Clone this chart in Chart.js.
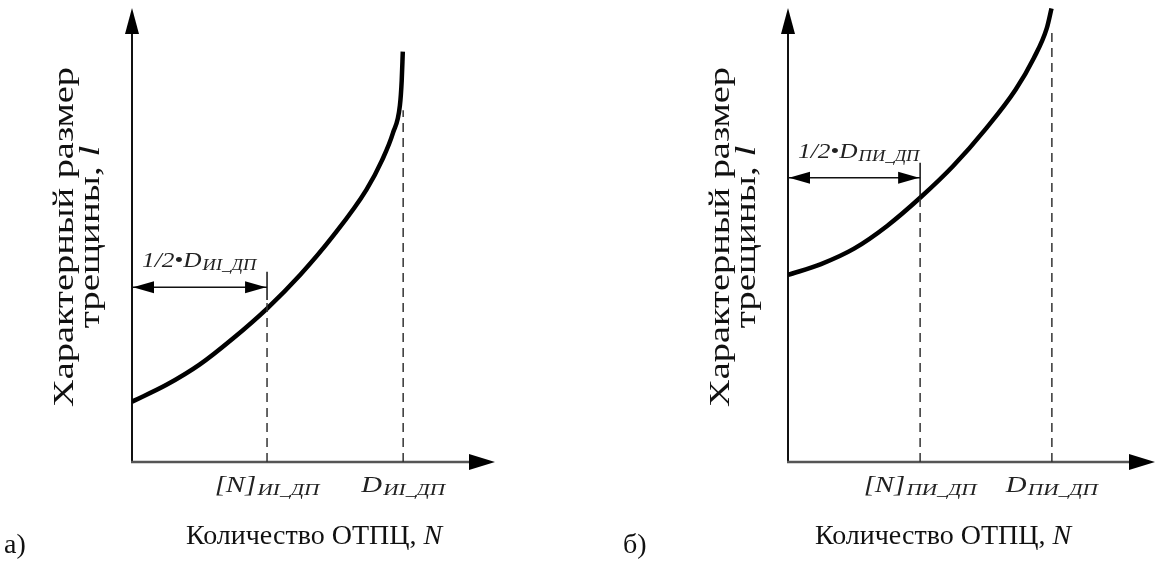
<!DOCTYPE html>
<html>
<head>
<meta charset="utf-8">
<script src="https://cdn.jsdelivr.net/npm/chart.js@4"></script>
<style>
  html, body { margin: 0; padding: 0; background: #fff; }
  #wrap { position: relative; width: 1165px; height: 562px; overflow: hidden; }
  canvas { position: absolute; top: 0; }
</style>
</head>
<body>
<div id="wrap">
  <canvas id="panelA" width="580" height="562" style="left:0"></canvas>
  <canvas id="panelB" width="585" height="562" style="left:580px"></canvas>
</div>
<script>
// Panel a): crack size vs number of cycles, curve goes vertical at D
var aCurveN = [0, 9.5, 18.7, 27.8, 37.2, 46.3, 55.4, 64.6, 68.9, 71.9, 73.8, 74.3, 74.6];
var aCurveL = [13.3, 17.0, 21.5, 27.2, 33.8, 41.2, 49.8, 60.0, 66.5, 72.5, 78.5, 84.0, 90.4];
var aAllowN = 37.2;   // [N]
var aLimitN = 74.7;   // D
var aArrowL = 38.5;   // level of the 1/2·D arrow
var aTickTop = 41.9;
var aDashTop = 35.7;
var aLimitTop = 77.5;
var aSub = 'ИІ_ДП';

// Panel б)
var bCurveN = [0, 9, 18, 27, 36, 45, 54, 62, 67, 70.5, 71.8];
var bCurveL = [41.2, 43.6, 47.0, 52.0, 58.2, 65.2, 73.5, 82.0, 89.0, 95.5, 99.9];
var bAllowN = 36.0;
var bLimitN = 71.9;
var bArrowL = 62.6;
var bTickTop = 65.9;
var bDashTop = 58.0;
var bLimitTop = 95.0;
var bSub = 'ПИ_ДП';

var FONT = '"Liberation Serif", "Times New Roman", serif';

function pts(xs, ys) {
    var out = [];
    for (var i = 0; i < xs.length; i++) out.push({ x: xs[i], y: ys[i] });
    return out;
}

function seg(x0, y0, x1, y1) {
    return [{ x: x0, y: y0 }, { x: x1, y: y1 }];
}

// text made of runs, stretched along its direction by sx
function drawRuns(ctx, x, y, runs, align, sx) {
    var total = 0, widths = [];
    for (var i = 0; i < runs.length; i++) {
        ctx.font = runs[i].font;
        widths.push(ctx.measureText(runs[i].text).width + (runs[i].gap || 0));
        total += widths[i];
    }
    ctx.save();
    ctx.translate(x, y);
    ctx.scale(sx, 1);
    var cx = align === 'center' ? -total / 2 : 0;
    ctx.textAlign = 'left';
    for (var j = 0; j < runs.length; j++) {
        ctx.font = runs[j].font;
        ctx.fillText(runs[j].text, cx, runs[j].dy || 0);
        cx += widths[j];
    }
    ctx.restore();
}

function subLabel(main, sub, big, small) {
    return [
        { text: main, font: 'italic ' + big + 'px ' + FONT, gap: 1 },
        { text: sub, font: 'italic ' + small + 'px ' + FONT, dy: 3 }
    ];
}

function tri(ctx, ax, ay, bx, by, cx, cy) {
    ctx.beginPath();
    ctx.moveTo(ax, ay);
    ctx.lineTo(bx, by);
    ctx.lineTo(cx, cy);
    ctx.closePath();
    ctx.fill();
}

function makePanel(canvasId, p) {
    var decor = {
        id: 'decor',
        beforeDatasetsDraw: function (chart) {
            var ctx = chart.ctx, xs = chart.scales.x, ys = chart.scales.y;
            var x0 = xs.getPixelForValue(0), y0 = ys.getPixelForValue(0);
            var xe = xs.getPixelForValue(100), ye = ys.getPixelForValue(100);
            ctx.save();
            ctx.lineWidth = 2;
            ctx.strokeStyle = '#111';
            ctx.beginPath();
            ctx.moveTo(x0, y0); ctx.lineTo(x0, ye + 10);
            ctx.stroke();
            ctx.strokeStyle = '#555';
            ctx.lineWidth = 2.5;
            ctx.beginPath();
            ctx.moveTo(x0 - 1, y0); ctx.lineTo(xe - 10, y0);
            ctx.stroke();
            ctx.fillStyle = '#000';
            tri(ctx, x0, ye, x0 - 7, ye + 26, x0 + 7, ye + 26);
            tri(ctx, xe, y0, xe - 26, y0 - 8, xe - 26, y0 + 8);
            ctx.restore();
        },
        afterDatasetsDraw: function (chart) {
            var ctx = chart.ctx, xs = chart.scales.x, ys = chart.scales.y, ca = chart.chartArea;
            var x0 = xs.getPixelForValue(0);
            var xa = xs.getPixelForValue(p.allowN);
            var xd = xs.getPixelForValue(p.limitN);
            var ya = ys.getPixelForValue(p.arrowL);
            ctx.save();
            ctx.fillStyle = '#000';
            ctx.textBaseline = 'alphabetic';
            // double arrow heads
            tri(ctx, x0 + 1, ya, x0 + 22, ya - 6, x0 + 22, ya + 6);
            tri(ctx, xa - 1, ya, xa - 22, ya - 6, xa - 22, ya + 6);
            // annotation
            ctx.fillStyle = '#222';
            drawRuns(ctx, x0 + 10, ya - 20, subLabel('1/2•D', p.sub, 22, 16), 'left', 1.15);
            // tick labels under axis
            drawRuns(ctx, xa, ca.bottom + 30, subLabel('[N]', p.sub, 23, 17), 'center', 1.25);
            drawRuns(ctx, xd, ca.bottom + 30, subLabel('D', p.sub, 23, 17), 'center', 1.25);
            // x title
            ctx.fillStyle = '#111';
            drawRuns(ctx, p.titleX, 544, [
                { text: 'Количество ОТПЦ, ', font: '28px ' + FONT },
                { text: 'N', font: 'italic 28px ' + FONT }
            ], 'center', 1);
            ctx.font = '28px ' + FONT;
            ctx.textAlign = 'left';
            ctx.fillText(p.letter, p.letterX, 553);

            // y title, two lines, rotated
            var cy = (ca.top + ca.bottom) / 2 + 2;
            ctx.save();
            ctx.translate(x0 - 59, cy);
            ctx.rotate(-Math.PI / 2);
            drawRuns(ctx, 0, 0, [{ text: 'Характерный размер', font: '30px ' + FONT }], 'center', 1.28);
            ctx.restore();
            ctx.save();
            ctx.translate(x0 - 33, cy);
            ctx.rotate(-Math.PI / 2);
            drawRuns(ctx, 0, 0, [
                { text: 'трещины, ', font: '30px ' + FONT },
                { text: 'l', font: 'italic 30px ' + FONT }
            ], 'center', 1.3);
            ctx.restore();
            ctx.restore();
        }
    };

    var thin = { showLine: true, pointRadius: 0, borderColor: '#111', borderWidth: 1.5, fill: false };

    return new Chart(document.getElementById(canvasId), {
        type: 'scatter',
        data: {
            datasets: [
                Object.assign({}, thin, { data: seg(p.allowN, 0, p.allowN, p.dashTop), borderDash: [9, 6], borderColor: '#333' }),
                Object.assign({}, thin, { data: seg(p.allowN, p.dashTop, p.allowN, p.tickTop) }),
                Object.assign({}, thin, { data: seg(p.limitN, 0, p.limitN, p.limitTop), borderDash: [9, 6], borderColor: '#333' }),
                Object.assign({}, thin, { data: seg(0, p.arrowL, p.allowN, p.arrowL) }),
                {
                    data: pts(p.curveN, p.curveL),
                    showLine: true,
                    pointRadius: 0,
                    borderColor: '#000',
                    borderWidth: 4.5,
                    cubicInterpolationMode: 'monotone',
                    fill: false
                }
            ]
        },
        options: {
            responsive: false,
            animation: false,
            layout: { padding: p.padding },
            plugins: { legend: { display: false }, tooltip: { enabled: false } },
            scales: {
                x: { type: 'linear', min: 0, max: 100, display: false },
                y: { type: 'linear', min: 0, max: 100, display: false }
            }
        },
        plugins: [decor]
    });
}

makePanel('panelA', {
    curveN: aCurveN, curveL: aCurveL, allowN: aAllowN, limitN: aLimitN, arrowL: aArrowL,
    tickTop: aTickTop, dashTop: aDashTop, limitTop: aLimitTop, sub: aSub,
    padding: { left: 132, right: 85, top: 8, bottom: 100 },
    titleX: 314, letter: 'а)', letterX: 4
});

makePanel('panelB', {
    curveN: bCurveN, curveL: bCurveL, allowN: bAllowN, limitN: bLimitN, arrowL: bArrowL,
    tickTop: bTickTop, dashTop: bDashTop, limitTop: bLimitTop, sub: bSub,
    padding: { left: 208, right: 10, top: 8, bottom: 100 },
    titleX: 363, letter: 'б)', letterX: 43
});
</script>
</body>
</html>
